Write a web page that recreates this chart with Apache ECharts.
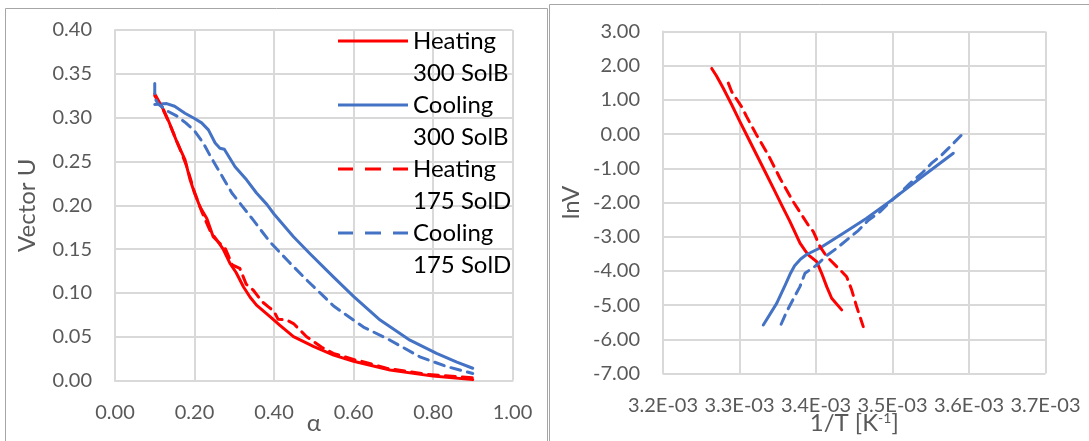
<!DOCTYPE html>
<html>
<head>
<meta charset="utf-8">
<script src="https://cdn.jsdelivr.net/npm/echarts@6/dist/echarts.min.js"></script>
<style>
  html, body { margin: 0; padding: 0; background: #ffffff; }
  #chart { width: 1089px; height: 441px; }
</style>
</head>
<body>
<div id="chart"></div>
<script>
// ---- Left panel: Vector U against conversion alpha ----
const heat300Alpha = [0.100, 0.122, 0.134, 0.155, 0.176, 0.189, 0.200, 0.214, 0.231, 0.247, 0.260, 0.272, 0.289, 0.305, 0.323, 0.340, 0.356, 0.390, 0.415, 0.449, 0.499, 0.550, 0.600, 0.692, 0.800, 0.900];
const heat300U     = [0.327, 0.309, 0.297, 0.273, 0.252, 0.229, 0.214, 0.198, 0.185, 0.164, 0.158, 0.150, 0.134, 0.123, 0.107, 0.095, 0.086, 0.073, 0.063, 0.050, 0.039, 0.029, 0.022, 0.012, 0.005, 0.001];

const cool300Alpha = [0.100, 0.130, 0.150, 0.176, 0.200, 0.218, 0.235, 0.252, 0.264, 0.275, 0.302, 0.331, 0.356, 0.382, 0.400, 0.449, 0.490, 0.550, 0.600, 0.667, 0.742, 0.809, 0.860, 0.900];
const cool300U     = [0.315, 0.316, 0.313, 0.305, 0.299, 0.294, 0.286, 0.271, 0.265, 0.264, 0.244, 0.229, 0.214, 0.201, 0.190, 0.164, 0.145, 0.118, 0.096, 0.069, 0.046, 0.031, 0.021, 0.014];

const heat175Alpha = [0.100, 0.120, 0.140, 0.160, 0.180, 0.200, 0.218, 0.240, 0.260, 0.277, 0.295, 0.314, 0.330, 0.348, 0.370, 0.386, 0.400, 0.410, 0.432, 0.449, 0.482, 0.520, 0.549, 0.608, 0.620, 0.683, 0.784, 0.900];
const heat175U     = [0.325, 0.310, 0.290, 0.268, 0.245, 0.215, 0.193, 0.170, 0.158, 0.151, 0.132, 0.128, 0.110, 0.103, 0.090, 0.084, 0.079, 0.070, 0.069, 0.065, 0.050, 0.038, 0.031, 0.023, 0.022, 0.014, 0.007, 0.003];

const cool175Alpha = [0.100, 0.100, 0.110, 0.134, 0.155, 0.178, 0.200, 0.222, 0.240, 0.258, 0.276, 0.294, 0.320, 0.348, 0.390, 0.436, 0.486, 0.516, 0.550, 0.625, 0.692, 0.767, 0.834, 0.900];
const cool175U     = [0.339, 0.322, 0.315, 0.307, 0.302, 0.294, 0.285, 0.271, 0.256, 0.242, 0.228, 0.214, 0.199, 0.183, 0.158, 0.136, 0.113, 0.100, 0.085, 0.061, 0.046, 0.027, 0.016, 0.008];

// ---- Right panel: lnV against 1/T ----
const heat300InvT = [3.2637e-3, 3.2700e-3, 3.2788e-3, 3.2900e-3, 3.3007e-3, 3.3115e-3, 3.3225e-3, 3.3335e-3, 3.3442e-3, 3.3550e-3, 3.3660e-3, 3.3791e-3, 3.3856e-3, 3.3899e-3, 3.4009e-3, 3.4074e-3, 3.4140e-3, 3.4205e-3, 3.4336e-3];
const heat300LnV  = [1.92, 1.70, 1.34, 0.85, 0.36, -0.12, -0.61, -1.10, -1.58, -2.07, -2.56, -3.19, -3.40, -3.53, -3.73, -4.07, -4.46, -4.80, -5.14];

const cool300InvT = [3.3311e-3, 3.3486e-3, 3.3600e-3, 3.3660e-3, 3.3720e-3, 3.3800e-3, 3.3878e-3, 3.4052e-3, 3.4357e-3, 3.4662e-3, 3.4988e-3, 3.5360e-3, 3.5795e-3];
const cool300LnV  = [-5.58, -4.95, -4.40, -4.10, -3.85, -3.65, -3.52, -3.33, -2.90, -2.46, -1.93, -1.29, -0.56];

const heat175InvT = [3.2854e-3, 3.2898e-3, 3.3028e-3, 3.3093e-3, 3.3224e-3, 3.3376e-3, 3.3529e-3, 3.3703e-3, 3.3899e-3, 3.3965e-3, 3.4052e-3, 3.4140e-3, 3.4314e-3, 3.4401e-3, 3.4467e-3, 3.4532e-3, 3.4618e-3];
const heat175LnV  = [1.49, 1.24, 0.80, 0.51, -0.03, -0.61, -1.29, -1.98, -2.66, -2.85, -3.29, -3.58, -3.97, -4.17, -4.56, -5.05, -5.63];

const cool175InvT = [3.3544e-3, 3.3617e-3, 3.3720e-3, 3.3790e-3, 3.3856e-3, 3.4009e-3, 3.4140e-3, 3.4270e-3, 3.4400e-3, 3.4553e-3, 3.4684e-3, 3.4837e-3, 3.4967e-3, 3.5098e-3, 3.5229e-3, 3.5381e-3, 3.5512e-3, 3.5643e-3, 3.5774e-3, 3.5905e-3];
const cool175LnV  = [-5.56, -5.19, -4.75, -4.46, -4.07, -3.83, -3.55, -3.34, -3.10, -2.82, -2.52, -2.27, -1.98, -1.73, -1.44, -1.15, -0.85, -0.61, -0.32, -0.02];

// ---- Tick labels ----
const alphaTicks = ['0.00', '0.20', '0.40', '0.60', '0.80', '1.00'];
const uTicks     = ['0.00', '0.05', '0.10', '0.15', '0.20', '0.25', '0.30', '0.35', '0.40'];
const invTTicks  = ['3.2E-03', '3.3E-03', '3.4E-03', '3.5E-03', '3.6E-03', '3.7E-03'];
const lnVTicks   = ['-7.00', '-6.00', '-5.00', '-4.00', '-3.00', '-2.00', '-1.00', '0.00', '1.00', '2.00', '3.00'];

// ---- Series names ----
const nameHeat300 = 'Heating\n300 SolB';
const nameCool300 = 'Cooling\n300 SolB';
const nameHeat175 = 'Heating\n175 SolD';
const nameCool175 = 'Cooling\n175 SolD';

const RED = '#ff0000';
const BLUE = '#4472c4';
const GRID = '#d9d9d9';
const TEXT = '#595959';
const FONT = 'Lato, "Liberation Sans", sans-serif';
const DASH = [10, 7];

// Legend keys: a 70px bar sitting level with the first text line; the stray
// zero-area segment at y=35 only stretches the icon box so the bar stays on top.
const KEY_SOLID  = 'path://M0,0h70v3h-70zM0,35L0.01,35';
const KEY_DASHED = 'path://M0,0h15v3h-15zM27,0h16v3h-16zM55,0h15v3h-15zM0,35L0.01,35';

function zip(xs, ys) { return xs.map((x, i) => [x, ys[i]]); }

function lineSeries(name, xs, ys, color, dashed, axis) {
  return {
    type: 'line',
    name: name,
    data: zip(xs, ys),
    xAxisIndex: axis,
    yAxisIndex: axis,
    symbol: 'none',
    smooth: false,
    animation: false,
    lineStyle: { color: color, width: 3, type: dashed ? DASH : 'solid', cap: 'round', join: 'round' },
    itemStyle: { color: color, borderWidth: 0 }
  };
}

function valueAxis(opts) {
  return Object.assign({
    type: 'value',
    axisLine: { show: true, lineStyle: { color: GRID, width: 2 } },
    axisTick: { show: false },
    splitLine: { show: true, lineStyle: { color: GRID, width: 2 } },
    nameLocation: 'middle',
    nameMoveOverlap: false,
    nameTextStyle: { color: TEXT, fontSize: 24, fontFamily: FONT }
  }, opts);
}

function tickLabel(list, margin, fallback) {
  return { color: TEXT, fontSize: 20, fontFamily: FONT, margin: margin,
    formatter: (v, i) => list[i] !== undefined ? list[i] : fallback(v) };
}

const chart = echarts.init(document.getElementById('chart'), null, { renderer: 'canvas' });

chart.setOption({
  backgroundColor: '#ffffff',
  animation: false,
  grid: [
    { left: 115, top: 30, width: 397.5, height: 350.5, containLabel: false, outerBoundsMode: 'none' },
    { left: 663, top: 31.5, width: 382.5, height: 342, containLabel: false, outerBoundsMode: 'none' }
  ],
  xAxis: [
    valueAxis({
      gridIndex: 0, min: 0, max: 1, interval: 0.2,
      name: 'α', nameGap: 31,
      axisLabel: tickLabel(alphaTicks, 22, v => v.toFixed(2))
    }),
    valueAxis({
      gridIndex: 1, min: 0.0032, max: 0.0037, interval: 0.0001,
      name: '1/T [K{sup|-1}]', nameGap: 38,
      nameTextStyle: { color: TEXT, fontSize: 24, fontFamily: FONT,
        rich: { sup: { fontSize: 14, fontFamily: FONT, color: TEXT, verticalAlign: 'top', padding: [0, 0, 10, 0] } } },
      axisLabel: tickLabel(invTTicks, 22, v => v.toExponential(1))
    })
  ],
  yAxis: [
    valueAxis({
      gridIndex: 0, min: 0, max: 0.4, interval: 0.05,
      name: 'Vector U', nameGap: 76,
      axisLabel: tickLabel(uTicks, 23, v => v.toFixed(2))
    }),
    valueAxis({
      gridIndex: 1, min: -7, max: 3, interval: 1,
      name: 'lnV', nameGap: 80,
      axisLabel: tickLabel(lnVTicks, 23, v => v.toFixed(2))
    })
  ],
  legend: {
    show: true,
    orient: 'vertical',
    left: 338,
    top: 25,
    padding: 0,
    itemGap: 0,
    itemWidth: 70,
    itemHeight: 35,
    symbolKeepAspect: true,
    selectedMode: false,
    textStyle: { color: '#000000', fontSize: 24, fontFamily: FONT, lineHeight: 32 },
    data: [
      { name: nameHeat300, icon: KEY_SOLID,  itemStyle: { color: RED,  borderWidth: 0 } },
      { name: nameCool300, icon: KEY_SOLID,  itemStyle: { color: BLUE, borderWidth: 0 } },
      { name: nameHeat175, icon: KEY_DASHED, itemStyle: { color: RED,  borderWidth: 0 } },
      { name: nameCool175, icon: KEY_DASHED, itemStyle: { color: BLUE, borderWidth: 0 } }
    ]
  },
  graphic: [
    { type: 'rect', silent: true, z: -1, shape: { x: 5.5, y: 8.5, width: 542, height: 440 },
      style: { fill: 'none', stroke: '#a6a6a6', lineWidth: 1 } },
    { type: 'rect', silent: true, z: -1, shape: { x: 549.5, y: 4.5, width: 545, height: 445 },
      style: { fill: 'none', stroke: '#a6a6a6', lineWidth: 1 } }
  ],
  series: [
    lineSeries(nameHeat300, heat300Alpha, heat300U, RED, false, 0),
    lineSeries(nameCool300, cool300Alpha, cool300U, BLUE, false, 0),
    lineSeries(nameHeat175, heat175Alpha, heat175U, RED, true, 0),
    lineSeries(nameCool175, cool175Alpha, cool175U, BLUE, true, 0),
    lineSeries(nameHeat300, heat300InvT, heat300LnV, RED, false, 1),
    lineSeries(nameCool300, cool300InvT, cool300LnV, BLUE, false, 1),
    lineSeries(nameHeat175, heat175InvT, heat175LnV, RED, true, 1),
    lineSeries(nameCool175, cool175InvT, cool175LnV, BLUE, true, 1)
  ]
});
</script>
</body>
</html>
